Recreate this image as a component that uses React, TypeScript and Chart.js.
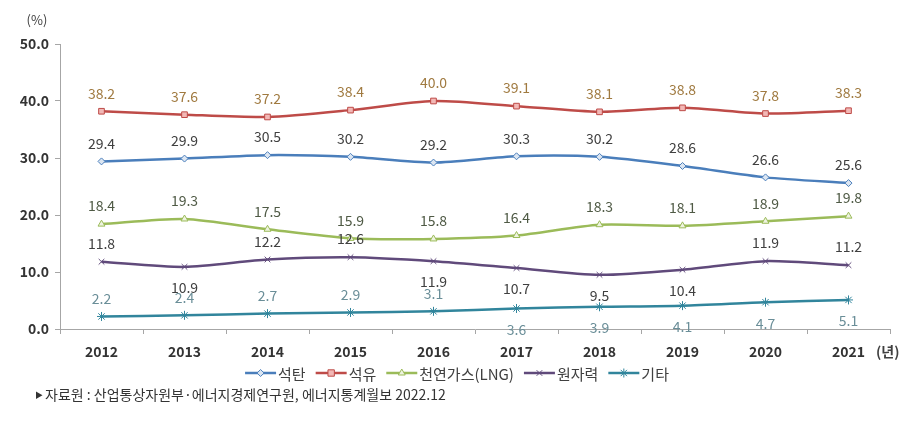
import React, { useEffect, useRef } from "react";
import { Chart, registerables } from "chart.js";

Chart.register(...registerables);

const years = ["2012", "2013", "2014", "2015", "2016", "2017", "2018", "2019", "2020", "2021"];
const coal = [29.4, 29.9, 30.5, 30.2, 29.2, 30.3, 30.2, 28.6, 26.6, 25.6];
const oil = [38.2, 37.6, 37.2, 38.4, 40.0, 39.1, 38.1, 38.8, 37.8, 38.3];
const lng = [18.4, 19.3, 17.5, 15.9, 15.8, 16.4, 18.3, 18.1, 18.9, 19.8];
const nuclear = [11.8, 10.9, 12.2, 12.6, 11.9, 10.7, 9.5, 10.4, 11.9, 11.2];
const others = [2.2, 2.4, 2.7, 2.9, 3.1, 3.6, 3.9, 4.1, 4.7, 5.1];
const seriesNames = ["석탄", "석유", "천연가스(LNG)", "원자력", "기타"];
const yTicks = [0, 10, 20, 30, 40, 50];
const sourceText = "자료원 : 산업통상자원부·에너지경제연구원, 에너지통계월보 2022.12";
const yUnit = "(%)";
const xUnit = "(년)";

// label placement (style): 1 = above, -1 = below
const nuclearLabelSide = [1, -1, 1, 1, -1, -1, -1, -1, 1, 1];
const othersLabelSide = [1, 1, 1, 1, 1, -1, -1, -1, -1, -1];

const FONT = "'Noto Sans CJK KR', 'Noto Sans', sans-serif";

const styles = [
  { line: "#4a7ebb", fill: "#dce6f2", point: "rectRot", radius: 3.5, label: "#404040" },
  { line: "#be4b48", fill: "#f2b8b6", point: "rect", radius: 4, label: "#a07a40" },
  { line: "#9bbb59", fill: "#eef3e0", point: "triangle", radius: 4, label: "#4f5a45" },
  { line: "#604a7b", fill: "#604a7b", point: "crossRot", radius: 4, label: "#404040" },
  { line: "#31859c", fill: "#31859c", point: "star", radius: 4.5, label: "#6a8e98" },
];

function drawPointHelper(ctx: CanvasRenderingContext2D, s: any, x: number, y: number) {
  const r = s.radius;
  ctx.fillStyle = s.fill;
  ctx.strokeStyle = s.line;
  ctx.lineWidth = 1;
  ctx.beginPath();
  if (s.point === "rectRot") {
    ctx.moveTo(x, y - r);
    ctx.lineTo(x + r, y);
    ctx.lineTo(x, y + r);
    ctx.lineTo(x - r, y);
    ctx.closePath();
    ctx.fill();
    ctx.stroke();
  } else if (s.point === "rect") {
    ctx.rect(x - r * 0.8, y - r * 0.8, r * 1.6, r * 1.6);
    ctx.fill();
    ctx.stroke();
  } else if (s.point === "triangle") {
    ctx.moveTo(x, y - r);
    ctx.lineTo(x + r * 0.87, y + r * 0.5);
    ctx.lineTo(x - r * 0.87, y + r * 0.5);
    ctx.closePath();
    ctx.fill();
    ctx.stroke();
  } else if (s.point === "crossRot") {
    const d = r * 0.7;
    ctx.moveTo(x - d, y - d);
    ctx.lineTo(x + d, y + d);
    ctx.moveTo(x + d, y - d);
    ctx.lineTo(x - d, y + d);
    ctx.stroke();
  } else {
    const d = r * 0.7;
    ctx.moveTo(x - d, y - d);
    ctx.lineTo(x + d, y + d);
    ctx.moveTo(x + d, y - d);
    ctx.lineTo(x - d, y + d);
    ctx.moveTo(x, y - r);
    ctx.lineTo(x, y + r);
    ctx.moveTo(x - r, y);
    ctx.lineTo(x + r, y);
    ctx.stroke();
  }
}

const dataLabelPlugin = {
  id: "dataLabels",
  afterDatasetsDraw(chart: any) {
    const ctx = chart.ctx;
    ctx.save();
    ctx.font = `14px ${FONT}`;
    ctx.textAlign = "center";
    ctx.textBaseline = "middle";
    chart.data.datasets.forEach((ds: any, di: number) => {
      const meta = chart.getDatasetMeta(di);
      ctx.fillStyle = styles[di].label;
      meta.data.forEach((pt: any, i: number) => {
        let side = 1;
        if (di === 3) side = nuclearLabelSide[i];
        if (di === 4) side = othersLabelSide[i];
        const y = side > 0 ? pt.y - 18 : pt.y + 21;
        ctx.fillText(Number(ds.data[i]).toFixed(1), pt.x, y);
      });
    });
    ctx.restore();
  },
};

const extrasPlugin = {
  id: "extras",
  afterDraw(chart: any) {
    const ctx = chart.ctx;
    ctx.save();
    // units
    ctx.fillStyle = "#404040";
    ctx.font = `13px ${FONT}`;
    ctx.textAlign = "center";
    ctx.textBaseline = "middle";
    ctx.fillText(yUnit, 37, 20);
    ctx.font = `bold 14px ${FONT}`;
    ctx.textAlign = "left";
    ctx.fillText(xUnit, 876, 352);

    // legend
    ctx.font = `15px ${FONT}`;
    ctx.textBaseline = "middle";
    const lineLen = 31;
    const gapText = 2;
    const gapItem = 10;
    const widths = seriesNames.map((n) => lineLen + gapText + ctx.measureText(n).width);
    const total = widths.reduce((a, b) => a + b, 0) + gapItem * (widths.length - 1);
    let x = 457 - total / 2;
    const ly = 373;
    seriesNames.forEach((name, i) => {
      const s = styles[i];
      ctx.strokeStyle = s.line;
      ctx.lineWidth = 2.5;
      ctx.beginPath();
      ctx.moveTo(x, ly);
      ctx.lineTo(x + lineLen, ly);
      ctx.stroke();
      ctx.save();
      drawPointHelper(ctx, s, x + lineLen / 2, ly);
      ctx.restore();
      ctx.fillStyle = "#404040";
      ctx.textAlign = "left";
      ctx.fillText(name, x + lineLen + gapText, ly + 1);
      x += widths[i] + gapItem;
    });

    // source
    ctx.fillStyle = "#333333";
    ctx.font = `8px ${FONT}`;
    ctx.fillText("▶", 35, 395);
    ctx.font = `14px ${FONT}`;
    ctx.fillText(sourceText, 45, 395);
    ctx.restore();
  },
};

export default function App() {
  const ref = useRef<HTMLCanvasElement | null>(null);
  useEffect(() => {
    if (!ref.current) return;
    const all = [coal, oil, lng, nuclear, others];
    const chart = new Chart(ref.current, {
      type: "line",
      data: {
        labels: years,
        datasets: all.map((d, i) => ({
          label: seriesNames[i],
          data: d,
          borderColor: styles[i].line,
          backgroundColor: styles[i].fill,
          pointBorderColor: styles[i].line,
          pointBackgroundColor: styles[i].fill,
          pointStyle: styles[i].point as any,
          pointRadius: styles[i].radius,
          pointBorderWidth: 1,
          borderWidth: 2.5,
          tension: 0.25,
          fill: false,
        })),
      },
      options: {
        animation: false,
        responsive: false,
        maintainAspectRatio: false,
        layout: { padding: { top: 44, left: 0, right: 18, bottom: 62 } },
        plugins: {
          legend: { display: false },
          tooltip: { enabled: false },
          title: { display: false },
        },
        scales: {
          x: {
            type: "category",
            offset: true,
            grid: {
              display: true,
              offset: true,
              drawOnChartArea: false,
              drawTicks: true,
              tickLength: 5,
              color: "#a6a6a6",
            },
            border: { display: true, color: "#a6a6a6", width: 1 },
            ticks: {
              color: "#333333",
              font: { family: FONT, size: 14, weight: "bold" },
              padding: 9,
              maxRotation: 0,
            },
            afterFit(scale: any) {
              scale.height = 30;
            },
          },
          y: {
            min: 0,
            max: 50,
            afterBuildTicks(scale: any) {
              scale.ticks = yTicks.map((v) => ({ value: v }));
            },
            grid: {
              display: true,
              drawOnChartArea: false,
              drawTicks: true,
              tickLength: 5,
              color: "#a6a6a6",
            },
            border: { display: true, color: "#a6a6a6", width: 1 },
            ticks: {
              color: "#333333",
              font: { family: FONT, size: 14, weight: "bold" },
              padding: 6,
              callback: (v: any) => Number(v).toFixed(1),
            },
            afterFit(scale: any) {
              scale.width = 60;
            },
          },
        },
      },
      plugins: [dataLabelPlugin, extrasPlugin],
    });
    return () => chart.destroy();
  }, []);
  return (
    <div style={{ position: "fixed", left: 0, top: 0, width: 908, height: 421, background: "#ffffff" }}>
      <canvas ref={ref} width={908} height={421} style={{ width: 908, height: 421, display: "block" }} />
    </div>
  );
}
